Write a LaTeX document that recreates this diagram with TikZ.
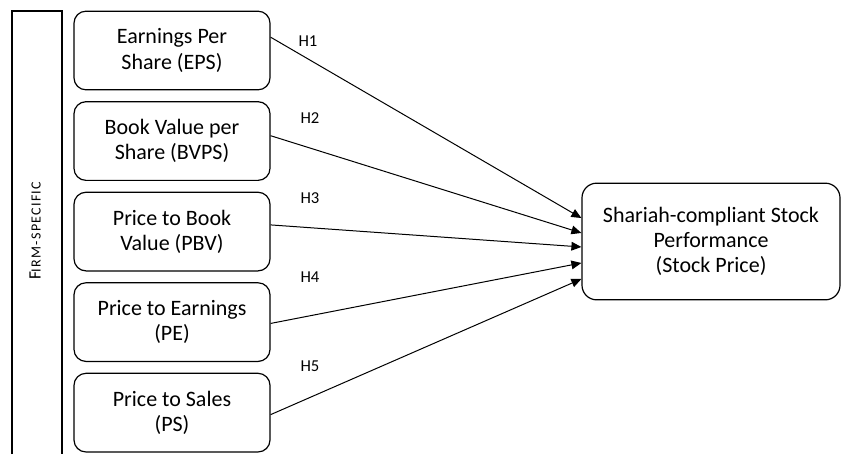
\documentclass[tikz,border=0pt]{standalone}
\usepackage{fontspec}
\setmainfont{Carlito}
\usetikzlibrary{arrows.meta, positioning}

\tikzset{
    factor/.style={rectangle, draw, rounded corners=9pt, line width=0.9pt, minimum width=147pt, minimum height=59pt, align=center, font=\fontsize{16.5}{19}\selectfont},
    outcome/.style={rectangle, draw, rounded corners=11pt, line width=0.9pt, minimum width=193.5pt, minimum height=87.5pt, align=center, font=\fontsize{16.5}{19}\selectfont},
    hyp/.style={font=\fontsize{12.5}{14}\selectfont}
}

\begin{document}
\begin{tikzpicture}[x=0.75pt, y=-0.75pt, >={Triangle[length=7.5pt, width=6.5pt]}, node distance=67.9pt, line width=0.75pt]
        \useasboundingbox (0,0) rectangle (841,454);

        % firm-specific frame
        \draw[line width=0.9pt] (12,454) -- (12,11) -- (62,11) -- (62,454);
        \node[rotate=90, inner sep=0pt] (firm) at (35,231) {\fontsize{13}{15}\selectfont F\fontsize{10.5}{12}\selectfont\addfontfeature{LetterSpace=9}IRM-SPECIFIC};

        \node[factor] (eps) at (172,50.5) {Earnings Per\\Share (EPS)};
        \node[factor, below of=eps] (bvps) {Book Value per\\Share (BVPS)};
        \node[factor, below of=bvps] (pbv) {Price to Book\\Value (PBV)};
        \node[factor, below of=pbv] (pe) {Price to Earnings\\(PE)};
        \node[factor, below of=pe] (ps) {Price to Sales\\(PS)};

        \node[outcome] (price) at (711,241.5) {Shariah-compliant Stock\\Performance\\(Stock Price)};

        \node[hyp] (h1) at (308,41) {H1};
        \node[hyp] (h2) at (310,118) {H2};
        \node[hyp] (h3) at (310,198) {H3};
        \node[hyp] (h4) at (310,277) {H4};
        \node[hyp] (h5) at (310,366) {H5};

        \draw[->] ([yshift=10pt]eps.east) -- ([yshift=17.6pt]price.west);
        \draw[->] ([yshift=4pt]bvps.east) -- ([yshift=6.4pt]price.west);
        \draw[->] ([yshift=5pt]pbv.east) -- ([yshift=-4.1pt]price.west);
        \draw[->] ([yshift=-1pt]pe.east) -- ([yshift=-16.1pt]price.west);
        \draw[->] ([yshift=-1.5pt]ps.east) -- ([yshift=-28.1pt]price.west);
\end{tikzpicture}
\end{document}
